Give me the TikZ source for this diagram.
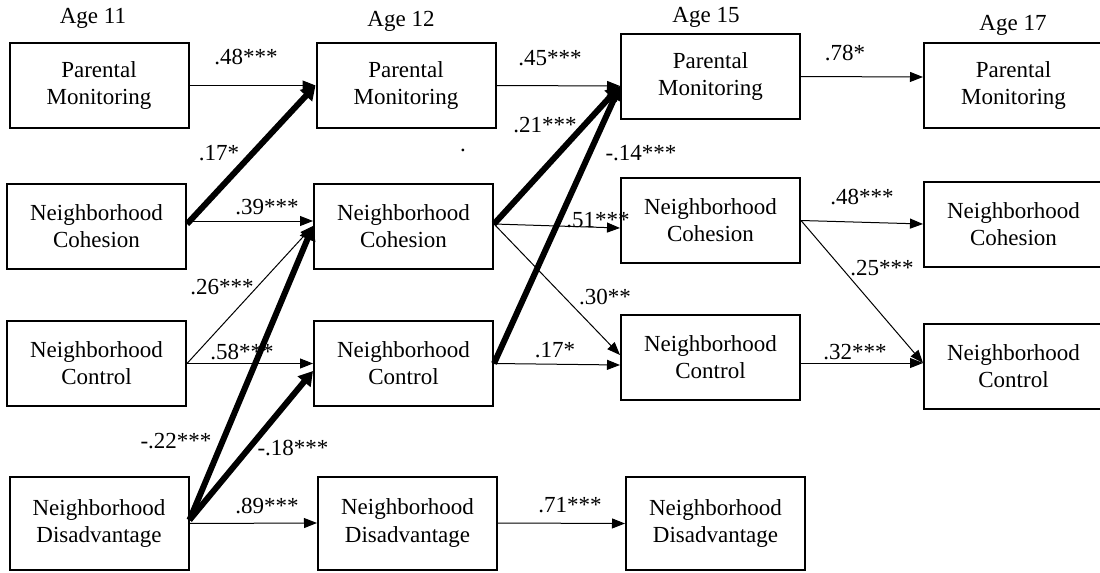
\documentclass[tikz,border=0pt]{standalone}
\usepackage{fontspec}
\setmainfont{Liberation Serif}
\usetikzlibrary{arrows.meta}

\begin{document}
\begin{tikzpicture}[x=0.5pt,y=-0.5pt,
    nd/.style={draw,line width=1pt,minimum width=89.5pt,minimum height=42.5pt,
      align=center,font=\fontsize{11.5}{13.5}\selectfont},
    tall/.style={nd,minimum height=46.5pt},
    lab/.style={font=\fontsize{11.5}{13.5}\selectfont,inner sep=0pt},
    arw/.style={line width=0.5pt,-{Triangle[length=6.5pt,width=5pt]}},
    big/.style={line width=3pt,-{Triangle[length=7pt,width=8pt]}} ]
  \useasboundingbox (0,0) rectangle (1100,573);
  \node[lab] (age11) at (93,18) {Age 11};
  \node[lab] (age12) at (401,21) {Age 12};
  \node[lab] (age15) at (706,17) {Age 15};
  \node[lab] (age17) at (1013,25) {Age 17};
  \node[nd] (PM11) at (99,85.5) {Parental\\Monitoring};
  \node[nd] (NC11) at (96.5,226) {Neighborhood\\Cohesion};
  \node[nd] (NCt11) at (96.5,363.5) {Neighborhood\\Control};
  \node[tall] (ND11) at (99,523.5) {Neighborhood\\Disadvantage};
  \node[nd] (PM12) at (406,85.5) {Parental\\Monitoring};
  \node[nd] (NC12) at (403.5,226) {Neighborhood\\Cohesion};
  \node[nd] (NCt12) at (403.5,363.5) {Neighborhood\\Control};
  \node[tall] (ND12) at (407.5,523) {Neighborhood\\Disadvantage};
  \node[nd] (PM15) at (710.5,76.5) {Parental\\Monitoring};
  \node[nd] (NC15) at (710.5,220.5) {Neighborhood\\Cohesion};
  \node[nd] (NCt15) at (710.5,357.5) {Neighborhood\\Control};
  \node[tall] (ND15) at (715.5,523.5) {Neighborhood\\Disadvantage};
  \node[nd] (PM17) at (1013.5,85.5) {Parental\\Monitoring};
  \node[nd] (NC17) at (1013.5,224) {Neighborhood\\Cohesion};
  \node[nd] (NCt17) at (1013.5,366.5) {Neighborhood\\Control};
  \node[lab] (dot) at (463,150) {.};
  \draw[arw] (PM11.east) -- (PM12.west);
  \draw[arw] ([yshift=2.5pt]NC11.east) -- ([yshift=2.5pt]NC12.west);
  \draw[arw] (NCt11.east) -- (NC12.west);
  \draw[arw] (NCt11.east) -- (NCt12.west);
  \draw[arw] (ND11.east) -- (ND12.west);
  \draw[big] ([yshift=1pt]NC11.east) -- (PM12.west);
  \draw[big] ([yshift=1.75pt]ND11.east) -- (NC12.west);
  \draw[big] ([yshift=1.75pt]ND11.east) -- ([yshift=-3.75pt]NCt12.west);
  \draw[arw] (PM12.east) -- ([yshift=-4.75pt]PM15.west);
  \draw[arw] ([yshift=1pt]NC12.east) -- ([yshift=-3.75pt]NC15.west);
  \draw[arw] ([yshift=1pt]NC12.east) -- ([yshift=1.25pt]NCt15.west);
  \draw[arw] (NCt12.east) -- ([yshift=-3.75pt]NCt15.west);
  \draw[arw] (ND12.east) -- (ND15.west);
  \draw[big] ([yshift=1pt]NC12.east) -- ([yshift=-4.75pt]PM15.west);
  \draw[big] (NCt12.east) -- ([yshift=-4.75pt]PM15.west);
  \draw[arw] (PM15.east) -- ([yshift=4.25pt]PM17.west);
  \draw[arw] (NC15.east) -- (NC17.west);
  \draw[arw] (NC15.east) -- ([yshift=1.75pt]NCt17.west);
  \draw[arw] ([yshift=-2.75pt]NCt15.east) -- ([yshift=1.75pt]NCt17.west);
  \node[lab] (w48a) at (246,57) {.48***};
  \node[lab] (w17a) at (219,153) {.17*};
  \node[lab] (w39) at (267,207) {.39***};
  \node[lab] (w26) at (222,287) {.26***};
  \node[lab] (w58) at (242,352) {.58***};
  \node[lab] (w22) at (176,441) {-.22***};
  \node[lab] (w18) at (293,448) {-.18***};
  \node[lab] (w89) at (267,506) {.89***};
  \node[lab] (w45) at (550,58) {.45***};
  \node[lab] (w21) at (545,125) {.21***};
  \node[lab] (w14) at (641,153) {-.14***};
  \node[lab] (w51) at (598,220) {.51***};
  \node[lab] (w30) at (605,297) {.30**};
  \node[lab] (w17b) at (555,350) {.17*};
  \node[lab] (w71) at (570,505) {.71***};
  \node[lab] (w78) at (845,53) {.78*};
  \node[lab] (w48b) at (862,197) {.48***};
  \node[lab] (w25) at (882,268) {.25***};
  \node[lab] (w32) at (855,352) {.32***};
\end{tikzpicture}
\end{document}
